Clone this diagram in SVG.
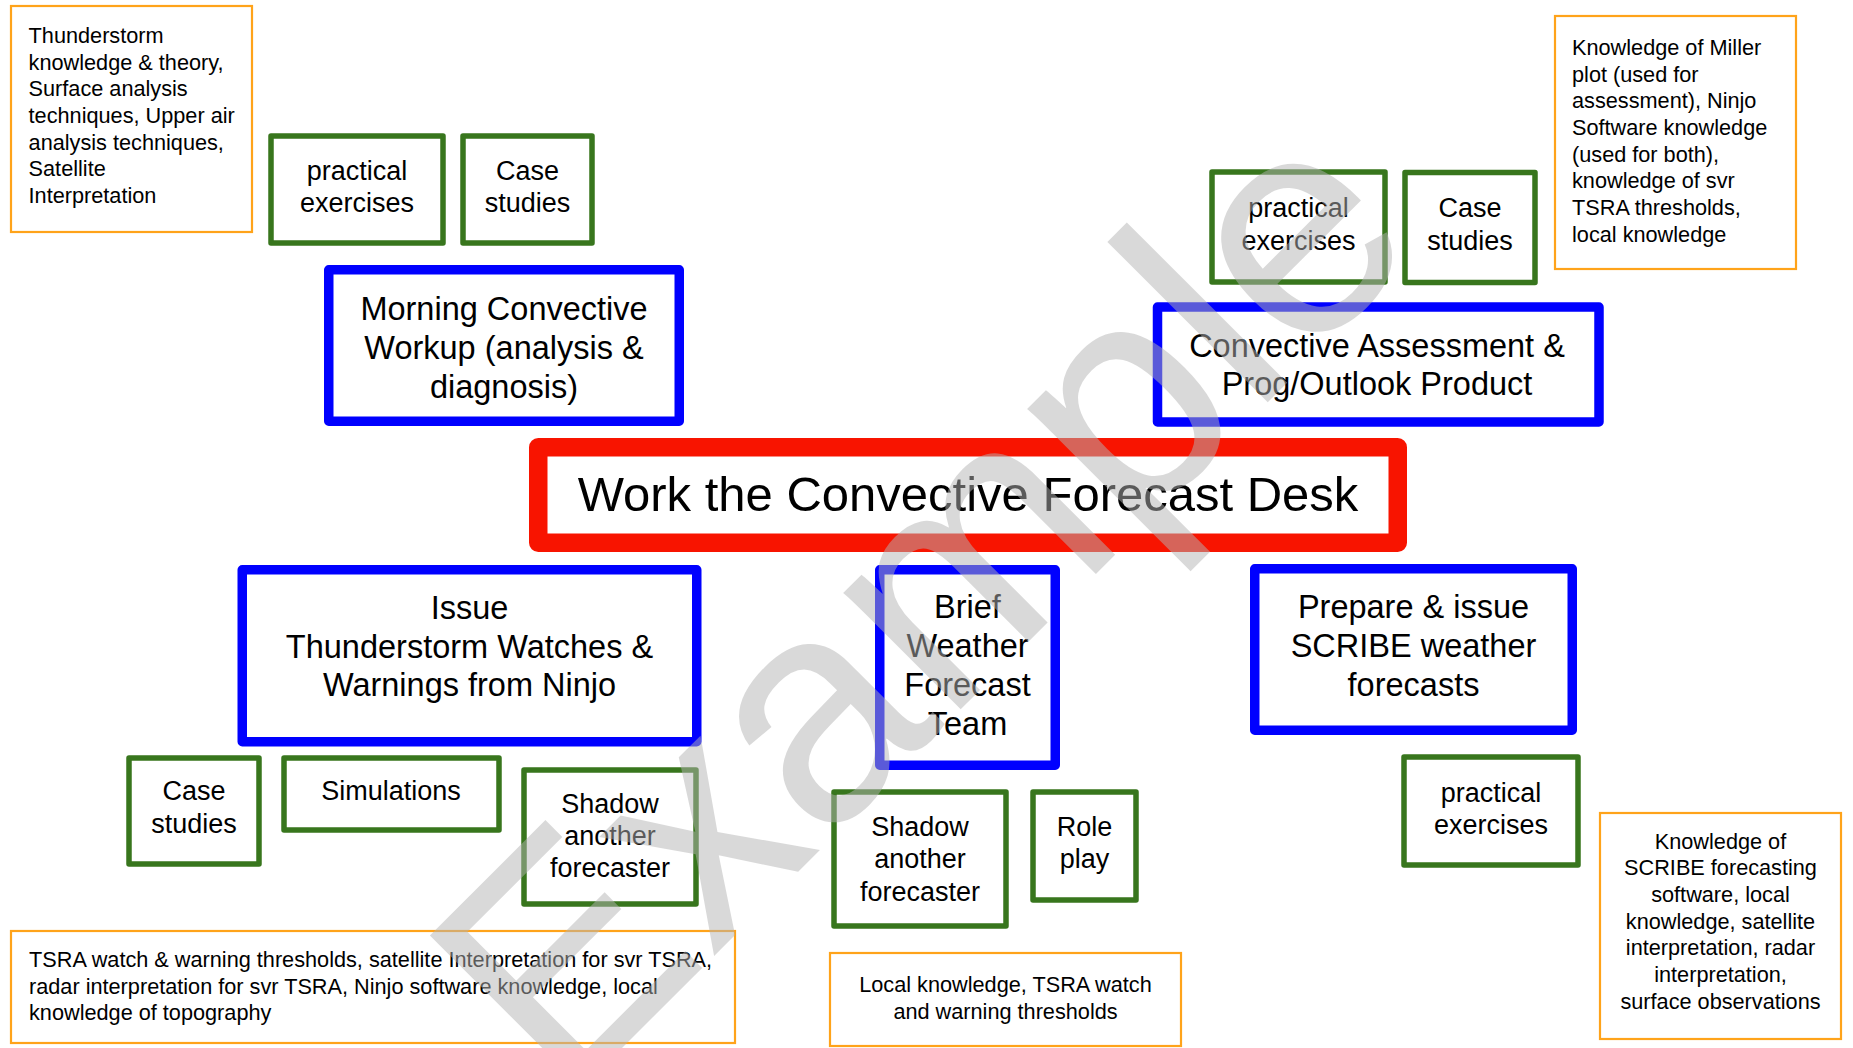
<svg xmlns="http://www.w3.org/2000/svg" width="1853" height="1048" viewBox="0 0 1853 1048">
<style>
  text { font-family: "Liberation Sans", Arial, sans-serif; fill: #000; }
  .ok { fill: #fff; stroke: #ffa31a; stroke-width: 2.2; }
  .gr { fill: #fff; stroke: #38761d; stroke-width: 5.5; stroke-linejoin: round; }
  .bl { fill: #fff; stroke: #0000ff; stroke-width: 9.5; stroke-linejoin: round; }
  .rd { fill: #fff; stroke: #f81400; stroke-width: 18.5; stroke-linejoin: round; }
  .small { font-size: 21.7px; }
  .smallc { font-size: 21.7px; text-anchor: middle; }
  .mid { font-size: 27px; text-anchor: middle; }
  .big { font-size: 32.5px; text-anchor: middle; }
  .title { font-size: 49px; text-anchor: middle; }
  .wm { font-size: 313px; fill: #b3b3b3; fill-opacity: 0.5; }
</style>
<rect x="0" y="0" width="1853" height="1048" fill="#fff"/>

<g id="connectors"/>

<g id="know-morning">
  <rect class="ok" x="11" y="6" width="241" height="226"/>
  <text class="small" x="28.6" y="43">Thunderstorm</text>
  <text class="small" x="28.6" y="69.7">knowledge &amp; theory,</text>
  <text class="small" x="28.6" y="96.3">Surface analysis</text>
  <text class="small" x="28.6" y="123">techniques, Upper air</text>
  <text class="small" x="28.6" y="149.7">analysis techniques,</text>
  <text class="small" x="28.6" y="176.3">Satellite</text>
  <text class="small" x="28.6" y="203">Interpretation</text>
</g>

<g id="practical-morning">
  <rect class="gr" x="271" y="136" width="172" height="107"/>
  <text class="mid" x="357" y="179.5">practical</text>
  <text class="mid" x="357" y="212">exercises</text>
</g>

<g id="case-morning">
  <rect class="gr" x="463" y="136" width="129" height="107"/>
  <text class="mid" x="527.5" y="179.5">Case</text>
  <text class="mid" x="527.5" y="212">studies</text>
</g>

<g id="morning-workup">
  <rect class="bl" x="328.75" y="269.75" width="350.5" height="151.5"/>
  <text class="big" x="504" y="320">Morning Convective</text>
  <text class="big" x="504" y="359">Workup (analysis &amp;</text>
  <text class="big" x="504" y="398">diagnosis)</text>
</g>

<g id="practical-assess">
  <rect class="gr" x="1212" y="172" width="173" height="110"/>
  <text class="mid" x="1298.5" y="217">practical</text>
  <text class="mid" x="1298.5" y="249.5">exercises</text>
</g>

<g id="case-assess">
  <rect class="gr" x="1405" y="172.5" width="130" height="110"/>
  <text class="mid" x="1470" y="217">Case</text>
  <text class="mid" x="1470" y="249.5">studies</text>
</g>

<g id="know-assess">
  <rect class="ok" x="1555" y="16" width="241" height="253"/>
  <text class="small" x="1572" y="55">Knowledge of Miller</text>
  <text class="small" x="1572" y="81.7">plot (used for</text>
  <text class="small" x="1572" y="108.3">assessment), Ninjo</text>
  <text class="small" x="1572" y="135">Software knowledge</text>
  <text class="small" x="1572" y="161.7">(used for both),</text>
  <text class="small" x="1572" y="188.3">knowledge of svr</text>
  <text class="small" x="1572" y="215">TSRA thresholds,</text>
  <text class="small" x="1572" y="241.7">local knowledge</text>
</g>

<g id="convective-assessment">
  <rect class="bl" x="1157.5" y="307" width="441.5" height="115"/>
  <text class="big" x="1377" y="356.5">Convective Assessment &amp;</text>
  <text class="big" x="1377" y="395">Prog/Outlook Product</text>
</g>

<g id="main-task">
  <rect class="rd" x="538.25" y="447.25" width="859.5" height="95.5"/>
  <text class="title" x="968" y="510.5">Work the Convective Forecast Desk</text>
</g>

<g id="issue-watches">
  <rect class="bl" x="242.25" y="569.75" width="454.5" height="172"/>
  <text class="big" x="469.5" y="619">Issue</text>
  <text class="big" x="469.5" y="657.5">Thunderstorm Watches &amp;</text>
  <text class="big" x="469.5" y="696">Warnings from Ninjo</text>
</g>

<g id="brief-team">
  <rect class="bl" x="879.75" y="569.75" width="175.5" height="195.5"/>
  <text class="big" x="967.5" y="618">Brief</text>
  <text class="big" x="967.5" y="657">Weather</text>
  <text class="big" x="967.5" y="696">Forecast</text>
  <text class="big" x="967.5" y="735">Team</text>
</g>

<g id="prepare-scribe">
  <rect class="bl" x="1254.75" y="568.75" width="317.5" height="161.5"/>
  <text class="big" x="1413.5" y="618">Prepare &amp; issue</text>
  <text class="big" x="1413.5" y="657">SCRIBE weather</text>
  <text class="big" x="1413.5" y="696">forecasts</text>
</g>

<g id="case-issue">
  <rect class="gr" x="129" y="758" width="130" height="106"/>
  <text class="mid" x="194" y="800">Case</text>
  <text class="mid" x="194" y="833">studies</text>
</g>

<g id="simulations">
  <rect class="gr" x="284" y="758" width="215" height="72"/>
  <text class="mid" x="391" y="800">Simulations</text>
</g>

<g id="shadow-issue">
  <rect class="gr" x="524" y="770" width="172" height="134"/>
  <text class="mid" x="610" y="812.7">Shadow</text>
  <text class="mid" x="610" y="845">another</text>
  <text class="mid" x="610" y="877.3">forecaster</text>
</g>

<g id="shadow-brief">
  <rect class="gr" x="834" y="792" width="172" height="134"/>
  <text class="mid" x="920" y="835.5">Shadow</text>
  <text class="mid" x="920" y="868">another</text>
  <text class="mid" x="920" y="900.5">forecaster</text>
</g>

<g id="role-play">
  <rect class="gr" x="1033" y="792" width="103" height="108"/>
  <text class="mid" x="1084.5" y="835.5">Role</text>
  <text class="mid" x="1084.5" y="868">play</text>
</g>

<g id="practical-scribe">
  <rect class="gr" x="1404" y="757" width="174" height="108"/>
  <text class="mid" x="1491" y="801.5">practical</text>
  <text class="mid" x="1491" y="833.5">exercises</text>
</g>

<g id="know-issue">
  <rect class="ok" x="11" y="931" width="724" height="112"/>
  <text class="small" x="29" y="967">TSRA watch &amp; warning thresholds, satellite Interpretation for svr TSRA,</text>
  <text class="small" x="29" y="993.5">radar interpretation for svr TSRA, Ninjo software knowledge, local</text>
  <text class="small" x="29" y="1020">knowledge of topography</text>
</g>

<g id="know-brief">
  <rect class="ok" x="830" y="953" width="351" height="93"/>
  <text class="smallc" x="1005.5" y="992">Local knowledge, TSRA watch</text>
  <text class="smallc" x="1005.5" y="1018.5">and warning thresholds</text>
</g>

<g id="know-scribe">
  <rect class="ok" x="1600" y="813" width="241" height="226"/>
  <text class="smallc" x="1720.5" y="848.5">Knowledge of</text>
  <text class="smallc" x="1720.5" y="875.2">SCRIBE forecasting</text>
  <text class="smallc" x="1720.5" y="901.8">software, local</text>
  <text class="smallc" x="1720.5" y="928.5">knowledge, satellite</text>
  <text class="smallc" x="1720.5" y="955.2">interpretation, radar</text>
  <text class="smallc" x="1720.5" y="981.8">interpretation,</text>
  <text class="smallc" x="1720.5" y="1008.5">surface observations</text>
</g>

<g id="watermark">
  <text class="wm" transform="translate(564,1106) rotate(-45)">Example</text>
</g>
</svg>
